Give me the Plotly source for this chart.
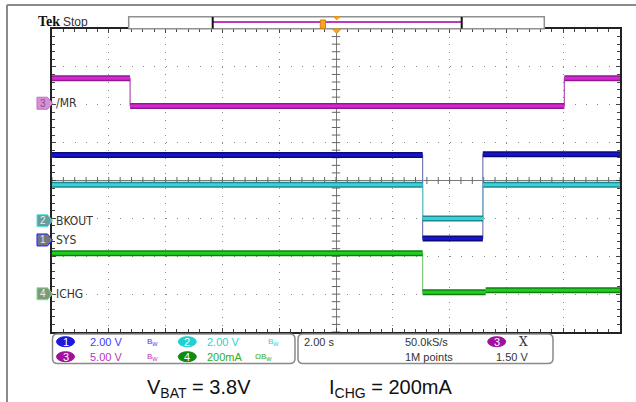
import numpy as np
import plotly.graph_objects as go

# -----------------------------
# scope settings / waveform data (screen divisions, time in s)
# -----------------------------
SEC_PER_DIV = 2.0

mr_edges = [-10, -7.25, 8.04, 10]
mr_levels = [2.70, 1.97, 2.70]

sys_edges = [-10, 3.05, 5.17, 10]
sys_levels = [0.67, -1.53, 0.69]

bkout_edges = [-10, 3.05, 5.18, 10]
bkout_levels = [-0.11, -1.00, -0.11]

ichg_edges = [-10, 3.05, 5.27, 10]
ichg_levels = [-1.92, -2.95, -2.90]

# channel ground markers (divisions)
ch_names = ["/MR", "BKOUT", "SYS", "ICHG"]
ch_numbers = ["3", "2", "1", "4"]
ch_offsets = [2.04, -1.06, -1.57, -2.99]

# readout
ch_scale = ["2.00 V", "2.00 V", "5.00 V", "200mA"]
timebase = "2.00 s"
sample_rate = "50.0kS/s"
record_len = "1M points"
trig_level = "1.50 V"

# -----------------------------
# page geometry helpers
# -----------------------------
W, H = 636, 402
L, R, T, B = 52, 16, 29, 70
PW, PH = W - L - R, H - T - B


def px(x):
    return (x - L) / PW


def py(y):
    return (H - B - y) / PH


def path(points, close=True):
    s = "M " + " L ".join(f"{px(x):.5f},{py(y):.5f}" for x, y in points)
    return s + (" Z" if close else "")


def rounded_box(x0, y0, x1, y1, r):
    p = lambda x, y: f"{px(x):.5f},{py(y):.5f}"
    return (f"M {p(x0 + r, y0)} L {p(x1 - r, y0)} Q {p(x1, y0)} {p(x1, y0 + r)} "
            f"L {p(x1, y1 - r)} Q {p(x1, y1)} {p(x1 - r, y1)} L {p(x0 + r, y1)} "
            f"Q {p(x0, y1)} {p(x0, y1 - r)} L {p(x0, y0 + r)} Q {p(x0, y0)} {p(x0 + r, y0)} Z")


def label(x, y, text, size, color, family="Liberation Sans", xanchor="left"):
    return dict(x=px(x), y=py(y), xref="paper", yref="paper", xanchor=xanchor, yanchor="middle",
                text=text, showarrow=False, font=dict(family=family, size=size, color=color))


def step_segments(edges, levels):
    hx, hy, vx, vy = [], [], [], []
    for i, lv in enumerate(levels):
        hx += [edges[i], edges[i + 1], None]
        hy += [lv, lv, None]
        if i > 0:
            vx += [edges[i], edges[i], None]
            vy += [levels[i - 1], lv, None]
    return hx, hy, vx, vy


fig = go.Figure()

channels = [
    (mr_edges, mr_levels, "#8e1a8e", "#d726d7", "#b050b0"),
    (sys_edges, sys_levels, "#0a0a78", "#1414d2", "#7a7ab8"),
    (bkout_edges, bkout_levels, "#1a8a92", "#38d2d8", "#70c4c8"),
    (ichg_edges, ichg_levels, "#0f7f0f", "#22cc22", "#80c880"),
]

# graticule centre ticks
fig.add_trace(go.Scatter(x=np.arange(-10, 10.01, 0.4), y=np.zeros(51), mode="markers",
                         marker=dict(symbol="line-ns", size=5, line=dict(width=1, color="#666")),
                         hoverinfo="skip"))
fig.add_trace(go.Scatter(x=np.zeros(41), y=np.arange(-4, 4.01, 0.2), mode="markers",
                         marker=dict(symbol="line-ew", size=6, line=dict(width=1, color="#666")),
                         hoverinfo="skip"))

for edges, levels, dark, bright, edge_col in channels:
    hx, hy, vx, vy = step_segments(edges, levels)
    fig.add_trace(go.Scatter(x=vx, y=vy, mode="lines", line=dict(color=edge_col, width=1.2)))
    fig.add_trace(go.Scatter(x=hx, y=hy, mode="lines", line=dict(color=dark, width=6)))
    fig.add_trace(go.Scatter(x=hx, y=hy, mode="lines", line=dict(color=bright, width=3)))

shapes = []
annotations = []

# outer frame
shapes.append(dict(type="line", xref="paper", yref="paper", x0=px(7), x1=px(636), y0=py(5), y1=py(5),
                   line=dict(color="#8a8a8a", width=2)))
shapes.append(dict(type="line", xref="paper", yref="paper", x0=px(7), x1=px(7), y0=py(5), y1=py(402),
                   line=dict(color="#8a8a8a", width=2)))

# record bar at the top
shapes.append(dict(type="rect", xref="paper", yref="paper", x0=px(128.7), x1=px(544.3), y0=py(16.7), y1=py(28.7),
                   line=dict(color="#909090", width=1.5), fillcolor="white"))
shapes.append(dict(type="line", xref="paper", yref="paper", x0=px(213), x1=px(461.7), y0=py(22), y1=py(22),
                   line=dict(color="#c038c0", width=2)))
for bx in (212.7, 461.7):
    shapes.append(dict(type="line", xref="paper", yref="paper", x0=px(bx), x1=px(bx), y0=py(17), y1=py(28.5),
                       line=dict(color="#111", width=2)))
shapes.append(dict(type="rect", xref="paper", yref="paper", x0=px(320.3), x1=px(325.5), y0=py(20), y1=py(28.3),
                   line=dict(color="#d98000", width=1), fillcolor="#f5a623"))
shapes.append(dict(type="path", xref="paper", yref="paper",
                   path=path([(333.5, 16.5), (340, 16.5), (336.7, 19.8)]),
                   line=dict(color="#f08c00", width=1), fillcolor="#f5a623"))
shapes.append(dict(type="path", xref="paper", yref="paper",
                   path=path([(332.5, 29), (341, 29), (336.7, 33.5)]),
                   line=dict(color="#f08c00", width=1), fillcolor="#f5a623"))

annotations.append(label(35.5, 21.5, "<b>Tek</b>", 14, "#111", family="Liberation Serif, DejaVu Serif"))
annotations.append(label(61, 22.5, "Stop", 12, "#333"))

# channel ground markers and labels
tag_style = {
    "3": ("#d88fd8", "#c070c0", "#7a5a7a"),
    "2": ("#6a9c9c", "#5fe0e0", "#e8f0f0"),
    "1": ("#777777", "#2020ff", "#e0e0ff"),
    "4": ("#7a9a7a", "#88e088", "#e8f0e8"),
}
for name, num, off in zip(ch_names, ch_numbers, ch_offsets):
    fill, border, txt = tag_style[num]
    yc = 332 - (off + 4) / 8 * PH
    shapes.append(dict(type="path", xref="paper", yref="paper",
                       path=path([(37, yc - 6), (47.5, yc - 6), (52.5, yc), (47.5, yc + 6), (37, yc + 6)]),
                       line=dict(color=border, width=1), fillcolor=fill))
    annotations.append(label(42.5, yc, num, 10, txt, xanchor="center"))
    annotations.append(label(54, yc, name, 12, "#333",
                             family="Liberation Sans Narrow, DejaVu Sans Condensed, Liberation Sans"))

# readout boxes
for x0, x1 in ((52.5, 295), (298, 553)):
    shapes.append(dict(type="path", xref="paper", yref="paper", path=rounded_box(x0, 334, x1, 363.5, 5),
                       line=dict(color="#8a8a8a", width=1.5)))

pills = [
    (65.5, 341.7, "#1a1ad8", "1"), (187.3, 341.7, "#22d0d0", "2"),
    (65.5, 356.7, "#a010a0", "3"), (187.3, 356.7, "#108a10", "4"),
    (496.7, 341.7, "#a010a0", "3"),
]
for cx, cy, col, num in pills:
    shapes.append(dict(type="circle", xref="paper", yref="paper", x0=px(cx - 9), x1=px(cx + 9),
                       y0=py(cy - 5), y1=py(cy + 5), line=dict(color=col, width=1), fillcolor=col))
    annotations.append(label(cx, cy, num, 11, "white", xanchor="center"))

readout = [
    (88, 341.7, ch_scale[0], "#3c3cff"), (145, 341.7, "B<sub>W</sub>", "#3c3cff"),
    (205, 341.7, ch_scale[1], "#30d0d0"), (266, 341.7, "B<sub>W</sub>", "#30d0d0"),
    (88, 356.7, ch_scale[2], "#c030c0"), (145, 356.7, "B<sub>W</sub>", "#c030c0"),
    (205, 356.7, ch_scale[3], "#2eaa2e"), (253, 356.7, "ΩB<sub>W</sub>", "#2eaa2e"),
    (302, 341.7, timebase, "#333"), (403, 341.7, sample_rate, "#333"),
    (403, 356.7, record_len, "#333"), (494, 356.7, trig_level, "#333"),
]
for x, y, txt, col in readout:
    size = 8 if "B<sub>" in txt else 11
    annotations.append(label(x, y, txt, size, col))
annotations.append(label(517, 341.7, "X", 12, "#333", family="DejaVu Serif"))

# test conditions below the screen
annotations.append(label(145, 388, "V<sub>BAT</sub> = 3.8V", 20, "#111"))
annotations.append(label(326.5, 388, "I<sub>CHG</sub> = 200mA", 20, "#111"))

axis_common = dict(showticklabels=False, showline=True, linecolor="#222", linewidth=2, mirror="ticks",
                   ticks="inside", ticklen=4, tickcolor="#444", showgrid=True, gridcolor="#8a8a8a",
                   gridwidth=1, zeroline=True, zerolinecolor="#7a7a7a", zerolinewidth=1, fixedrange=True)

fig.update_layout(
    width=W, height=H,
    margin=dict(l=L, r=R, t=T, b=B),
    paper_bgcolor="white", plot_bgcolor="white",
    showlegend=False,
    xaxis=dict(range=[-5 * SEC_PER_DIV, 5 * SEC_PER_DIV], dtick=SEC_PER_DIV, tick0=0,
               griddash="1px,6.58px",
               minor=dict(dtick=SEC_PER_DIV / 5, ticks="inside", ticklen=3, tickcolor="#444", showgrid=False),
               **axis_common),
    yaxis=dict(range=[-4, 4], dtick=1, tick0=0, griddash="1px,10.36px",
               minor=dict(dtick=0.2, ticks="inside", ticklen=3, tickcolor="#444", showgrid=False),
               **axis_common),
    shapes=shapes,
    annotations=annotations,
)

fig.write_html("out.html", config={"displayModeBar": False},
               post_script="document.body.style.margin='0';")
